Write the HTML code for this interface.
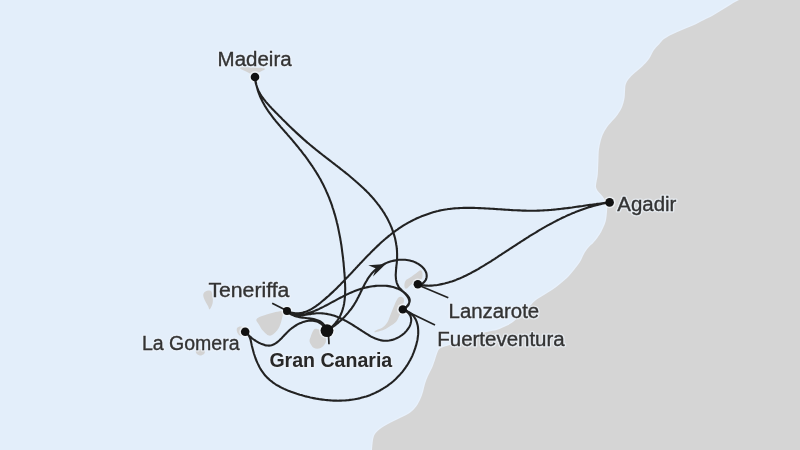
<!DOCTYPE html>
<html><head><meta charset="utf-8"><style>
html,body{margin:0;padding:0;width:800px;height:450px;overflow:hidden;background:#e3eefa}
svg{display:block;will-change:transform}
text{font-family:"Liberation Sans",sans-serif;font-size:19.50px}
.h{fill:none;stroke:#edf3fa;stroke-width:3;stroke-linejoin:round;opacity:.7}
.t{fill:#333;stroke:#333;stroke-width:.35}
.t[font-weight]{stroke-width:0;fill:#282828}
</style></head><body>
<svg width="800" height="450" viewBox="0 0 800 450">
<rect width="800" height="450" fill="#e3eefa"/>
<path d="M739.0,0.0 C737.7,0.7 733.8,2.7 731.0,4.4 C728.2,6.1 725.0,8.1 722.0,10.0 C719.0,11.9 716.0,13.9 713.0,15.6 C710.0,17.3 707.3,18.3 704.0,20.0 C700.7,21.7 696.7,23.9 693.0,25.6 C689.3,27.3 685.5,28.5 682.0,30.0 C678.5,31.5 675.0,32.9 672.0,34.4 C669.0,35.9 666.2,37.3 664.0,39.0 C661.8,40.7 660.7,42.6 659.0,44.4 C657.3,46.2 655.7,47.6 654.0,50.0 C652.3,52.4 651.0,56.2 649.0,59.0 C647.0,61.8 644.7,64.1 642.0,66.7 C639.3,69.3 635.3,72.2 633.0,74.4 C630.7,76.6 629.2,78.2 628.0,80.0 C626.8,81.8 626.1,83.0 625.6,85.0 C625.1,87.0 625.2,89.7 625.0,92.0 C624.8,94.3 624.9,96.5 624.4,99.0 C623.9,101.5 623.3,104.1 622.2,106.7 C621.1,109.3 619.5,112.0 617.8,114.4 C616.1,116.8 614.1,118.9 612.2,121.1 C610.4,123.3 608.2,125.6 606.7,127.8 C605.2,130.0 603.9,132.2 602.9,134.4 C601.9,136.6 601.4,138.5 600.7,141.1 C600.0,143.7 599.3,146.7 598.9,150.0 C598.5,153.3 598.6,156.9 598.4,161.0 C598.2,165.1 598.1,170.9 597.8,174.4 C597.5,177.9 596.8,179.9 596.5,182.0 C596.2,184.1 595.8,185.5 596.0,187.0 C596.2,188.5 597.0,189.8 597.8,191.0 C598.6,192.2 599.9,193.1 601.0,194.4 C602.1,195.7 603.4,197.2 604.4,199.0 C605.4,200.8 606.6,202.9 607.0,205.0 C607.4,207.1 607.2,208.9 607.0,211.4 C606.8,213.9 606.5,217.6 606.0,220.0 C605.5,222.4 605.0,223.7 604.0,226.0 C603.0,228.3 601.7,231.3 600.0,234.0 C598.3,236.7 596.0,239.7 594.0,242.0 C592.0,244.3 589.7,246.0 588.0,248.0 C586.3,250.0 585.3,251.7 584.0,254.0 C582.7,256.3 581.7,259.3 580.0,262.0 C578.3,264.7 576.0,267.5 574.0,270.0 C572.0,272.5 570.3,274.7 568.0,277.0 C565.7,279.3 562.7,281.8 560.0,284.0 C557.3,286.2 554.7,288.2 552.0,290.0 C549.3,291.8 546.7,293.3 544.0,295.0 C541.3,296.7 538.3,298.2 536.0,300.0 C533.7,301.8 531.5,304.4 530.0,306.0 C528.5,307.6 528.4,308.0 526.7,309.7 C525.0,311.4 522.2,314.3 520.0,316.3 C517.8,318.3 515.5,320.1 513.3,321.7 C511.1,323.3 509.4,324.4 506.7,325.7 C504.0,327.0 500.4,328.7 497.3,329.7 C494.2,330.7 490.9,331.0 488.0,331.7 C485.1,332.4 482.4,332.8 480.0,333.7 C477.6,334.6 475.9,335.9 473.3,337.1 C470.7,338.3 467.3,339.7 464.4,340.7 C461.4,341.7 458.6,342.4 455.6,343.3 C452.7,344.2 449.4,345.1 446.7,346.0 C444.0,346.9 441.2,347.4 439.6,348.7 C438.0,350.0 437.7,352.1 436.9,354.0 C436.1,355.9 435.8,357.7 435.0,360.0 C434.2,362.3 433.2,365.3 432.0,368.0 C430.8,370.7 429.2,373.3 428.0,376.0 C426.8,378.7 425.8,381.3 425.0,384.0 C424.2,386.7 423.8,389.3 423.0,392.0 C422.2,394.7 421.3,397.3 420.0,400.0 C418.7,402.7 417.0,405.7 415.0,408.0 C413.0,410.3 410.8,412.2 408.0,414.0 C405.2,415.8 401.3,417.3 398.0,419.0 C394.7,420.7 391.0,422.3 388.0,424.0 C385.0,425.7 382.2,427.3 380.0,429.0 C377.8,430.7 376.2,432.2 375.0,434.0 C373.8,435.8 373.5,437.3 373.0,440.0 C372.5,442.7 372.2,448.3 372.0,450.0 L800,450 L800,0 Z" fill="#d5d5d5" stroke="#e8f1fc" stroke-width="2.4" paint-order="stroke"/>
<path d="M240.0,67.8 C240.8,67.0 247.9,67.4 252.0,67.5 C256.1,67.6 262.8,68.0 264.5,68.5 C266.2,69.0 263.2,70.0 262.0,70.8 C260.8,71.6 258.6,72.6 257.0,73.2 C255.4,73.8 254.4,74.7 252.7,74.5 C251.0,74.3 249.1,73.1 247.0,72.0 C244.9,70.9 239.2,68.5 240.0,67.8Z" fill="#d3d3d3"/>
<path d="M204.0,292.7 C204.7,291.8 206.1,290.9 207.3,290.7 C208.5,290.5 210.4,290.2 211.3,291.3 C212.2,292.4 212.5,295.4 212.7,297.3 C212.9,299.2 213.0,300.9 212.7,302.7 C212.4,304.5 211.3,306.9 210.7,308.0 C210.1,309.1 209.8,309.6 209.3,309.3 C208.9,309.0 208.7,307.3 208.0,306.0 C207.3,304.7 206.1,303.0 205.3,301.3 C204.5,299.6 203.5,297.4 203.3,296.0 C203.1,294.6 203.3,293.6 204.0,292.7Z" fill="#d3d3d3"/>
<path d="M256.7,318.9 C258.0,317.2 262.8,315.8 266.7,314.5 C270.6,313.2 277.3,311.7 280.0,311.3 C282.7,310.9 282.6,310.9 283.0,312.0 C283.4,313.1 282.8,315.4 282.2,317.8 C281.6,320.2 280.7,324.1 279.4,326.7 C278.1,329.3 276.1,331.8 274.4,333.3 C272.6,334.8 270.8,336.0 268.9,335.6 C267.0,335.2 265.0,333.0 263.3,331.1 C261.6,329.2 260.0,326.4 258.9,324.4 C257.8,322.4 255.4,320.5 256.7,318.9Z" fill="#d3d3d3"/>
<path d="M237.0,328.0 C237.6,326.9 239.7,326.3 241.0,326.5 C242.3,326.7 244.3,327.7 245.0,329.0 C245.7,330.3 245.7,333.3 245.0,334.5 C244.3,335.7 242.2,336.2 241.0,336.0 C239.8,335.8 238.2,334.3 237.5,333.0 C236.8,331.7 236.4,329.1 237.0,328.0Z" fill="#d3d3d3"/>
<path d="M196.0,350.5 C196.6,349.8 198.6,349.0 200.0,349.0 C201.4,349.0 203.8,349.7 204.5,350.5 C205.2,351.3 204.8,353.2 204.0,354.0 C203.2,354.8 201.2,355.6 200.0,355.5 C198.8,355.4 197.2,354.3 196.5,353.5 C195.8,352.7 195.4,351.2 196.0,350.5Z" fill="#d3d3d3"/>
<path d="M315.3,328.7 C316.5,328.5 318.4,329.3 320.0,330.0 C321.6,330.7 324.0,331.6 325.0,333.0 C326.0,334.4 325.9,337.0 326.0,338.7 C326.1,340.4 326.2,341.8 325.3,343.3 C324.4,344.9 322.6,347.2 320.7,348.0 C318.8,348.8 315.8,349.0 314.0,348.0 C312.2,347.0 310.2,343.9 309.7,342.0 C309.1,340.1 310.1,338.5 310.7,336.7 C311.2,334.9 312.2,332.3 313.0,331.0 C313.8,329.7 314.1,328.9 315.3,328.7Z" fill="#d3d3d3"/>
<path d="M400.0,296.7 C400.9,296.6 402.6,297.1 403.3,297.8 C404.0,298.5 404.1,299.8 404.0,301.0 C403.9,302.2 403.3,303.5 403.0,305.0 C402.7,306.5 402.5,308.4 402.0,310.0 C401.5,311.6 400.7,312.9 400.0,314.4 C399.3,315.9 398.5,317.6 397.8,318.9 C397.1,320.2 396.7,321.1 395.6,322.2 C394.5,323.3 392.8,324.5 391.1,325.6 C389.4,326.7 387.5,328.0 385.6,328.9 C383.8,329.8 381.7,330.6 380.0,331.1 C378.3,331.7 376.5,332.1 375.6,332.2 C374.7,332.3 374.2,332.1 374.4,331.7 C374.6,331.3 375.4,330.6 376.7,330.0 C378.0,329.4 380.5,328.9 382.2,327.8 C383.9,326.7 385.6,324.8 386.7,323.3 C387.8,321.8 388.2,320.6 388.9,318.9 C389.6,317.2 390.4,315.1 391.1,313.3 C391.8,311.5 392.6,309.7 393.3,307.8 C394.1,305.9 394.9,303.8 395.6,302.2 C396.4,300.6 397.1,299.2 397.8,298.3 C398.5,297.4 399.1,296.8 400.0,296.7Z" fill="#d3d3d3"/>
<path d="M420.8,270.2 C421.4,270.3 421.9,271.0 422.2,272.0 C422.5,273.0 422.6,275.0 422.5,276.2 C422.4,277.4 422.4,278.2 421.5,279.0 C420.6,279.8 418.3,280.4 417.0,281.0 C415.7,281.6 414.8,281.9 413.6,282.6 C412.5,283.4 411.2,284.6 410.1,285.5 C409.0,286.4 408.0,287.8 407.2,288.3 C406.4,288.8 405.6,288.9 405.1,288.3 C404.6,287.7 404.3,286.1 404.4,284.8 C404.5,283.5 404.9,281.7 405.8,280.5 C406.8,279.3 408.6,278.7 410.1,277.6 C411.7,276.5 413.7,275.2 415.1,274.1 C416.5,273.0 417.7,271.9 418.6,271.2 C419.6,270.5 420.2,270.1 420.8,270.2Z" fill="#d3d3d3"/>
<text x="217.6" y="66.1" textLength="74.0" lengthAdjust="spacingAndGlyphs" class="h">Madeira</text>
<text x="617.3" y="210.7" textLength="59.1" lengthAdjust="spacingAndGlyphs" class="h">Agadir</text>
<text x="208.4" y="296.9" textLength="81.0" lengthAdjust="spacingAndGlyphs" class="h">Teneriffa</text>
<text x="141.9" y="349.9" textLength="97.7" lengthAdjust="spacingAndGlyphs" class="h">La Gomera</text>
<text x="269.4" y="366.9" textLength="122.8" lengthAdjust="spacingAndGlyphs" font-weight="bold" class="h">Gran Canaria</text>
<text x="448.6" y="317.9" textLength="90.6" lengthAdjust="spacingAndGlyphs" class="h">Lanzarote</text>
<text x="437.3" y="346.4" textLength="127.4" lengthAdjust="spacingAndGlyphs" class="h">Fuerteventura</text>
<text x="217.6" y="66.1" textLength="74.0" lengthAdjust="spacingAndGlyphs" class="t">Madeira</text>
<text x="617.3" y="210.7" textLength="59.1" lengthAdjust="spacingAndGlyphs" class="t">Agadir</text>
<text x="208.4" y="296.9" textLength="81.0" lengthAdjust="spacingAndGlyphs" class="t">Teneriffa</text>
<text x="141.9" y="349.9" textLength="97.7" lengthAdjust="spacingAndGlyphs" class="t">La Gomera</text>
<text x="269.4" y="366.9" textLength="122.8" lengthAdjust="spacingAndGlyphs" font-weight="bold" class="t">Gran Canaria</text>
<text x="448.6" y="317.9" textLength="90.6" lengthAdjust="spacingAndGlyphs" class="t">Lanzarote</text>
<text x="437.3" y="346.4" textLength="127.4" lengthAdjust="spacingAndGlyphs" class="t">Fuerteventura</text>
<circle cx="255.0" cy="77.0" r="5.9" fill="#f2f5f9" fill-opacity=".75"/>
<circle cx="609.6" cy="202.4" r="5.9" fill="#f2f5f9" fill-opacity=".75"/>
<circle cx="287.0" cy="311.0" r="5.6" fill="#f2f5f9" fill-opacity=".75"/>
<circle cx="245.2" cy="331.7" r="5.9" fill="#f2f5f9" fill-opacity=".75"/>
<circle cx="327.0" cy="330.6" r="8.0" fill="#f2f5f9" fill-opacity=".75"/>
<circle cx="417.8" cy="284.3" r="5.8" fill="#f2f5f9" fill-opacity=".75"/>
<circle cx="402.8" cy="309.4" r="5.8" fill="#f2f5f9" fill-opacity=".75"/>
<path d="M255.0,77.0 L255.2,78.6 L255.4,80.2 L255.7,81.7 L256.0,83.3 L256.3,84.8 L256.7,86.3 L257.1,87.8 L257.5,89.2 L257.9,90.7 L258.4,92.1 L258.9,93.5 L259.5,94.9 L260.0,96.3 L260.6,97.7 L261.3,99.0 L261.9,100.3 L262.6,101.7 L263.3,103.0 L264.0,104.3 L264.7,105.6 L265.5,106.8 L266.3,108.1 L267.1,109.3 L267.9,110.6 L268.8,111.8 L269.6,113.0 L270.5,114.2 L271.4,115.4 L272.3,116.6 L273.2,117.8 L274.1,119.0 L275.1,120.1 L276.0,121.3 L277.0,122.5 L278.0,123.6 L278.9,124.8 L279.9,125.9 L280.9,127.1 L281.9,128.2 L282.9,129.4 L283.9,130.5 L284.9,131.7 L285.9,132.8 L286.9,133.9 L287.9,135.1 L288.9,136.2 L289.9,137.4 L290.9,138.5 L291.9,139.7 L292.9,140.9 L293.8,142.0 L294.8,143.2 L295.8,144.4 L296.7,145.5 L297.7,146.7 L298.7,147.9 L299.6,149.1 L300.6,150.2 L301.5,151.4 L302.4,152.6 L303.3,153.8 L304.3,155.0 L305.2,156.2 L306.1,157.4 L307.0,158.7 L307.9,159.9 L308.7,161.1 L309.6,162.3 L310.5,163.6 L311.3,164.8 L312.2,166.0 L313.0,167.3 L313.8,168.5 L314.6,169.8 L315.5,171.1 L316.2,172.3 L317.0,173.6 L317.8,174.9 L318.6,176.2 L319.3,177.5 L320.1,178.8 L320.8,180.1 L321.5,181.4 L322.2,182.7 L322.9,184.1 L323.6,185.4 L324.2,186.7 L324.9,188.1 L325.5,189.4 L326.1,190.8 L326.7,192.2 L327.3,193.5 L327.9,194.9 L328.5,196.3 L329.1,197.7 L329.6,199.1 L330.1,200.5 L330.7,201.9 L331.2,203.3 L331.7,204.7 L332.2,206.2 L332.6,207.6 L333.1,209.0 L333.6,210.5 L334.0,211.9 L334.4,213.4 L334.9,214.8 L335.3,216.3 L335.7,217.7 L336.1,219.2 L336.5,220.7 L336.8,222.2 L337.2,223.6 L337.5,225.1 L337.9,226.6 L338.2,228.1 L338.5,229.6 L338.8,231.1 L339.1,232.6 L339.4,234.1 L339.7,235.6 L340.0,237.1 L340.3,238.6 L340.5,240.1 L340.8,241.6 L341.0,243.1 L341.3,244.7 L341.5,246.2 L341.7,247.7 L341.9,249.2 L342.1,250.8 L342.3,252.3 L342.5,253.8 L342.7,255.3 L342.9,256.9 L343.1,258.4 L343.2,259.9 L343.4,261.5 L343.6,263.0 L343.7,264.5 L343.8,266.1 L344.0,267.6 L344.1,269.1 L344.2,270.7 L344.3,272.2 L344.5,273.7 L344.6,275.3 L344.7,276.8 L344.8,278.3 L344.8,279.9 L344.9,281.4 L345.0,282.9 L345.1,284.4 L345.1,286.0 L345.2,287.5 L345.2,289.0 L345.2,290.5 L345.1,292.0 L345.1,293.5 L345.0,295.0 L345.0,296.4 L344.8,297.9 L344.7,299.3 L344.5,300.8 L344.3,302.2 L344.1,303.7 L343.8,305.1 L343.5,306.5 L343.1,307.8 L342.8,309.2 L342.3,310.6 L341.9,311.9 L341.3,313.2 L340.8,314.5 L340.2,315.8 L339.5,317.1 L338.8,318.3 L338.0,319.6 L337.2,320.8 L336.3,322.0 L335.4,323.2 L334.4,324.3 L333.3,325.4 L332.2,326.5 L331.0,327.6 L329.7,328.7 L328.4,329.7 L327.0,330.7 M255.0,77.0 L255.1,78.6 L255.3,80.2 L255.5,81.7 L255.8,83.3 L256.2,84.7 L256.7,86.2 L257.2,87.6 L257.7,89.0 L258.3,90.4 L259.0,91.7 L259.7,93.0 L260.4,94.3 L261.2,95.6 L262.1,96.8 L262.9,98.0 L263.8,99.2 L264.8,100.4 L265.7,101.6 L266.7,102.8 L267.7,103.9 L268.7,105.0 L269.7,106.2 L270.8,107.3 L271.8,108.4 L272.9,109.5 L273.9,110.6 L275.0,111.7 L276.0,112.8 L277.1,113.8 L278.2,114.9 L279.2,116.0 L280.3,117.1 L281.3,118.1 L282.4,119.2 L283.5,120.2 L284.5,121.3 L285.6,122.3 L286.6,123.4 L287.7,124.4 L288.8,125.5 L289.8,126.5 L290.9,127.5 L292.0,128.6 L293.1,129.6 L294.2,130.6 L295.2,131.6 L296.3,132.6 L297.4,133.6 L298.5,134.6 L299.6,135.6 L300.7,136.6 L301.8,137.6 L302.9,138.6 L304.0,139.6 L305.2,140.6 L306.3,141.6 L307.4,142.6 L308.6,143.5 L309.7,144.5 L310.9,145.5 L312.0,146.4 L313.2,147.4 L314.4,148.3 L315.5,149.3 L316.7,150.2 L317.9,151.2 L319.1,152.1 L320.3,153.1 L321.5,154.0 L322.7,155.0 L323.9,155.9 L325.1,156.8 L326.3,157.8 L327.5,158.7 L328.7,159.6 L330.0,160.6 L331.2,161.5 L332.4,162.5 L333.6,163.4 L334.8,164.3 L336.0,165.3 L337.3,166.2 L338.5,167.2 L339.7,168.1 L340.9,169.1 L342.1,170.0 L343.3,171.0 L344.5,171.9 L345.7,172.9 L346.9,173.8 L348.1,174.8 L349.3,175.8 L350.4,176.7 L351.6,177.7 L352.8,178.7 L353.9,179.7 L355.1,180.7 L356.2,181.7 L357.4,182.7 L358.5,183.7 L359.6,184.7 L360.7,185.7 L361.8,186.8 L362.9,187.8 L364.0,188.8 L365.1,189.9 L366.2,190.9 L367.2,192.0 L368.3,193.1 L369.3,194.1 L370.3,195.2 L371.3,196.3 L372.3,197.4 L373.3,198.5 L374.3,199.7 L375.2,200.8 L376.1,201.9 L377.1,203.1 L378.0,204.3 L378.9,205.4 L379.8,206.6 L380.6,207.8 L381.5,209.0 L382.3,210.2 L383.1,211.5 L383.9,212.7 L384.7,213.9 L385.4,215.2 L386.2,216.5 L386.9,217.8 L387.6,219.1 L388.3,220.4 L388.9,221.7 L389.6,223.1 L390.2,224.4 L390.8,225.8 L391.4,227.2 L391.9,228.5 L392.4,229.9 L392.9,231.4 L393.4,232.8 L393.9,234.2 L394.3,235.6 L394.7,237.1 L395.1,238.5 L395.4,240.0 L395.7,241.5 L396.0,243.0 L396.2,244.5 L396.5,246.0 L396.7,247.5 L396.8,249.0 L397.0,250.5 L397.0,252.0 L397.1,253.5 L397.1,255.1 L397.1,256.6 L397.1,258.2 L397.0,259.7 L396.9,261.3 L396.8,262.8 L396.6,264.4 L396.4,265.9 L396.3,267.5 L396.1,269.0 L396.0,270.6 L395.9,272.1 L395.8,273.6 L395.7,275.1 L395.8,276.5 L395.9,278.0 L396.0,279.4 L396.3,280.8 L396.6,282.2 L397.0,283.5 L397.6,284.8 L398.2,286.1 L399.0,287.3 L400.0,288.5 L401.1,289.6 L402.2,290.7 L403.5,291.8 L404.7,292.9 L405.9,293.9 L407.0,295.0 L408.0,296.1 L408.8,297.3 L409.4,298.5 L409.7,299.7 L409.7,301.0 L409.4,302.4 L408.7,303.8 L407.8,305.1 L406.7,306.4 L405.5,307.6 L404.2,308.6 L402.8,309.3 M609.6,202.4 L608.1,202.6 L606.6,202.7 L605.1,202.9 L603.6,203.1 L602.1,203.3 L600.6,203.5 L599.1,203.7 L597.6,203.8 L596.1,204.1 L594.6,204.3 L593.1,204.5 L591.6,204.7 L590.1,204.9 L588.6,205.1 L587.1,205.3 L585.6,205.5 L584.1,205.7 L582.6,206.0 L581.1,206.2 L579.6,206.4 L578.1,206.6 L576.6,206.8 L575.1,207.0 L573.6,207.2 L572.1,207.5 L570.6,207.7 L569.1,207.9 L567.6,208.1 L566.1,208.3 L564.6,208.4 L563.1,208.6 L561.6,208.8 L560.1,209.0 L558.6,209.1 L557.1,209.3 L555.6,209.5 L554.1,209.6 L552.6,209.7 L551.1,209.9 L549.6,210.0 L548.1,210.1 L546.6,210.2 L545.1,210.3 L543.6,210.4 L542.1,210.5 L540.6,210.5 L539.1,210.6 L537.6,210.6 L536.1,210.7 L534.6,210.7 L533.1,210.7 L531.6,210.7 L530.0,210.7 L528.5,210.7 L527.0,210.7 L525.5,210.6 L524.0,210.6 L522.5,210.6 L521.0,210.5 L519.5,210.4 L518.0,210.4 L516.5,210.3 L515.0,210.2 L513.5,210.2 L512.0,210.1 L510.5,210.0 L509.0,209.9 L507.5,209.8 L506.0,209.7 L504.4,209.6 L502.9,209.5 L501.4,209.4 L499.9,209.3 L498.4,209.2 L496.9,209.1 L495.4,209.0 L493.9,208.9 L492.3,208.8 L490.8,208.7 L489.3,208.6 L487.8,208.5 L486.3,208.5 L484.7,208.4 L483.2,208.3 L481.7,208.2 L480.2,208.1 L478.7,208.1 L477.1,208.0 L475.6,208.0 L474.1,207.9 L472.6,207.9 L471.1,207.9 L469.5,207.9 L468.0,207.8 L466.5,207.9 L465.0,207.9 L463.5,207.9 L462.0,208.0 L460.5,208.0 L459.0,208.1 L457.5,208.2 L456.0,208.3 L454.5,208.4 L453.0,208.5 L451.5,208.7 L450.0,208.9 L448.5,209.0 L447.0,209.3 L445.5,209.5 L444.0,209.7 L442.6,210.0 L441.1,210.3 L439.6,210.6 L438.2,211.0 L436.7,211.3 L435.3,211.7 L433.8,212.1 L432.4,212.5 L430.9,212.9 L429.5,213.4 L428.1,213.9 L426.7,214.4 L425.3,214.9 L423.8,215.4 L422.4,215.9 L421.1,216.5 L419.7,217.1 L418.3,217.7 L416.9,218.3 L415.5,219.0 L414.2,219.6 L412.8,220.3 L411.5,221.0 L410.2,221.7 L408.8,222.4 L407.5,223.1 L406.2,223.9 L404.9,224.6 L403.6,225.4 L402.4,226.2 L401.1,227.0 L399.8,227.9 L398.6,228.7 L397.4,229.6 L396.1,230.4 L394.9,231.3 L393.7,232.2 L392.5,233.1 L391.3,234.0 L390.1,235.0 L388.9,235.9 L387.8,236.9 L386.6,237.8 L385.5,238.8 L384.3,239.8 L383.2,240.8 L382.0,241.8 L380.9,242.8 L379.8,243.8 L378.7,244.9 L377.6,245.9 L376.5,246.9 L375.4,248.0 L374.3,249.1 L373.2,250.1 L372.1,251.2 L371.0,252.3 L370.0,253.4 L368.9,254.5 L367.8,255.5 L366.8,256.6 L365.7,257.7 L364.6,258.9 L363.6,260.0 L362.5,261.1 L361.5,262.2 L360.4,263.3 L359.4,264.4 L358.3,265.5 L357.3,266.7 L356.2,267.8 L355.2,268.9 L354.1,270.0 L353.1,271.1 L352.1,272.3 L351.0,273.4 L350.0,274.5 L348.9,275.6 L347.9,276.7 L346.8,277.8 L345.8,278.9 L344.7,280.1 L343.6,281.2 L342.6,282.2 L341.5,283.3 L340.5,284.4 L339.4,285.5 L338.3,286.6 L337.2,287.7 L336.2,288.7 L335.1,289.8 L334.0,290.8 L332.9,291.9 L331.8,292.9 L330.7,293.9 L329.6,294.9 L328.5,296.0 L327.3,296.9 L326.2,297.9 L325.1,298.9 L323.9,299.9 L322.8,300.8 L321.6,301.8 L320.5,302.7 L319.3,303.7 L318.1,304.6 L316.9,305.4 L315.7,306.3 L314.5,307.1 L313.3,307.9 L312.1,308.7 L310.8,309.4 L309.6,310.0 L308.3,310.6 L307.0,311.2 L305.7,311.7 L304.4,312.1 L303.0,312.5 L301.7,312.8 L300.3,313.0 L298.9,313.2 L297.5,313.2 L296.1,313.2 L294.6,313.1 L293.1,312.9 L291.6,312.6 L290.1,312.2 L288.6,311.6 L287.0,311.0 M609.6,202.4 L608.1,202.7 L606.6,202.9 L605.0,203.2 L603.5,203.5 L602.0,203.8 L600.5,204.2 L599.1,204.5 L597.6,204.9 L596.1,205.3 L594.6,205.6 L593.2,206.0 L591.7,206.5 L590.3,206.9 L588.8,207.3 L587.4,207.8 L586.0,208.2 L584.5,208.7 L583.1,209.2 L581.7,209.7 L580.3,210.2 L578.9,210.7 L577.5,211.3 L576.1,211.8 L574.7,212.4 L573.3,212.9 L571.9,213.5 L570.6,214.1 L569.2,214.7 L567.8,215.3 L566.5,215.9 L565.1,216.6 L563.7,217.2 L562.4,217.8 L561.0,218.5 L559.7,219.1 L558.4,219.8 L557.0,220.5 L555.7,221.2 L554.3,221.9 L553.0,222.6 L551.7,223.3 L550.4,224.0 L549.1,224.7 L547.7,225.4 L546.4,226.2 L545.1,226.9 L543.8,227.7 L542.5,228.4 L541.2,229.2 L539.9,229.9 L538.6,230.7 L537.3,231.5 L536.0,232.3 L534.7,233.1 L533.4,233.8 L532.1,234.6 L530.8,235.4 L529.5,236.2 L528.2,237.1 L526.9,237.9 L525.7,238.7 L524.4,239.5 L523.1,240.3 L521.8,241.1 L520.5,242.0 L519.2,242.8 L517.9,243.6 L516.7,244.5 L515.4,245.3 L514.1,246.1 L512.8,247.0 L511.5,247.8 L510.2,248.7 L509.0,249.5 L507.7,250.3 L506.4,251.2 L505.1,252.0 L503.8,252.9 L502.5,253.7 L501.2,254.6 L499.9,255.4 L498.7,256.2 L497.4,257.1 L496.1,257.9 L494.8,258.8 L493.5,259.6 L492.2,260.4 L490.9,261.3 L489.6,262.1 L488.3,262.9 L487.0,263.7 L485.6,264.5 L484.3,265.4 L483.0,266.2 L481.7,266.9 L480.4,267.7 L479.1,268.5 L477.7,269.3 L476.4,270.0 L475.1,270.8 L473.7,271.5 L472.4,272.2 L471.0,273.0 L469.7,273.7 L468.3,274.3 L467.0,275.0 L465.6,275.7 L464.3,276.3 L462.9,277.0 L461.5,277.6 L460.2,278.2 L458.8,278.7 L457.4,279.3 L456.0,279.9 L454.6,280.4 L453.2,280.9 L451.8,281.4 L450.4,281.8 L449.0,282.3 L447.6,282.7 L446.1,283.1 L444.7,283.5 L443.3,283.8 L441.8,284.1 L440.4,284.4 L438.9,284.7 L437.4,285.0 L436.0,285.2 L434.5,285.3 L433.0,285.5 L431.5,285.6 L430.1,285.6 L428.6,285.7 L427.1,285.6 L425.6,285.6 L424.1,285.4 L422.6,285.3 L421.0,285.0 L419.5,284.7 L418.0,284.4 M327.0,330.7 L328.3,329.9 L329.6,329.1 L330.9,328.3 L332.1,327.4 L333.4,326.5 L334.6,325.6 L335.8,324.7 L337.0,323.7 L338.2,322.8 L339.3,321.8 L340.5,320.7 L341.6,319.7 L342.7,318.7 L343.8,317.6 L344.8,316.5 L345.8,315.4 L346.8,314.2 L347.8,313.1 L348.8,311.9 L349.7,310.7 L350.7,309.5 L351.6,308.3 L352.4,307.1 L353.3,305.8 L354.1,304.6 L354.9,303.3 L355.7,302.0 L356.4,300.7 L357.1,299.4 L357.8,298.0 L358.5,296.7 L359.2,295.3 L359.9,294.0 L360.5,292.6 L361.2,291.3 L361.8,289.9 L362.5,288.6 L363.1,287.2 L363.8,285.9 L364.5,284.6 L365.2,283.3 L365.9,282.0 L366.7,280.7 L367.4,279.4 L368.2,278.2 L369.0,277.0 L369.9,275.8 L370.8,274.6 L371.7,273.5 L372.7,272.4 L373.8,271.3 L374.9,270.3 L376.0,269.3 L377.2,268.3 L378.4,267.4 L379.7,266.6 L381.0,265.7 L382.4,265.0 L383.8,264.2 L385.2,263.5 L386.6,262.9 L388.1,262.3 L389.6,261.8 L391.1,261.3 L392.7,260.9 L394.2,260.6 L395.8,260.3 L397.4,260.0 L398.9,259.8 L400.5,259.7 L402.1,259.7 L403.6,259.7 L405.2,259.8 L406.7,260.0 L408.3,260.2 L409.8,260.5 L411.3,260.9 L412.7,261.3 L414.2,261.9 L415.6,262.5 L416.9,263.2 L418.3,263.9 L419.6,264.8 L420.8,265.7 L421.9,266.6 L423.0,267.7 L423.9,268.7 L424.7,269.9 L425.4,271.0 L426.0,272.2 L426.4,273.4 L426.6,274.7 L426.7,275.9 L426.6,277.2 L426.3,278.5 L425.8,279.8 L425.0,281.0 L424.1,282.1 L422.9,283.1 L421.5,283.8 L419.9,284.2 L418.0,284.2 M287.0,311.0 L288.4,312.0 L289.7,312.8 L291.1,313.5 L292.6,314.1 L294.0,314.5 L295.4,314.8 L296.9,314.9 L298.4,315.0 L299.9,315.0 L301.3,314.8 L302.8,314.6 L304.3,314.3 L305.8,314.0 L307.3,313.6 L308.8,313.1 L310.2,312.6 L311.7,312.1 L313.1,311.5 L314.6,310.9 L316.0,310.3 L317.4,309.7 L318.8,309.1 L320.1,308.4 L321.5,307.7 L322.8,307.1 L324.2,306.4 L325.5,305.7 L326.9,305.0 L328.2,304.3 L329.5,303.6 L330.8,302.9 L332.1,302.2 L333.4,301.5 L334.7,300.8 L336.0,300.1 L337.3,299.4 L338.6,298.7 L339.9,298.0 L341.3,297.3 L342.6,296.6 L343.9,295.9 L345.2,295.3 L346.5,294.6 L347.9,294.0 L349.2,293.4 L350.6,292.8 L351.9,292.2 L353.3,291.6 L354.7,291.0 L356.1,290.5 L357.5,290.0 L359.0,289.5 L360.4,289.0 L361.9,288.6 L363.4,288.2 L364.9,287.8 L366.4,287.4 L367.9,287.1 L369.5,286.8 L371.1,286.5 L372.7,286.3 L374.3,286.1 L375.9,285.9 L377.5,285.8 L379.1,285.7 L380.7,285.7 L382.3,285.7 L383.9,285.7 L385.5,285.8 L387.0,285.9 L388.6,286.1 L390.1,286.4 L391.6,286.7 L393.1,287.0 L394.5,287.4 L395.9,287.9 L397.2,288.4 L398.6,289.0 L399.8,289.7 L401.1,290.4 L402.2,291.2 L403.3,292.0 L404.4,292.9 L405.4,293.9 L406.3,295.0 L407.2,296.1 L407.9,297.3 L408.6,298.5 L409.0,299.8 L409.3,301.0 L409.3,302.3 L409.0,303.6 L408.5,304.9 L407.6,306.1 L406.4,307.2 L404.8,308.3 L402.8,309.3 M287.0,311.0 L288.3,312.0 L289.6,312.9 L291.0,313.6 L292.4,314.1 L293.8,314.6 L295.2,314.9 L296.7,315.1 L298.1,315.2 L299.6,315.2 L301.2,315.2 L302.7,315.1 L304.2,314.9 L305.8,314.7 L307.3,314.5 L308.9,314.3 L310.4,314.1 L311.9,313.8 L313.5,313.6 L315.0,313.5 L316.5,313.3 L318.0,313.3 L319.5,313.3 L321.0,313.3 L322.4,313.4 L323.9,313.5 L325.3,313.7 L326.7,313.9 L328.1,314.2 L329.5,314.5 L330.9,314.8 L332.3,315.2 L333.7,315.6 L335.1,316.1 L336.4,316.6 L337.8,317.1 L339.1,317.7 L340.5,318.3 L341.8,318.9 L343.1,319.5 L344.4,320.2 L345.8,320.9 L347.1,321.6 L348.4,322.3 L349.7,323.1 L351.0,323.9 L352.3,324.7 L353.6,325.5 L354.9,326.3 L356.2,327.1 L357.5,328.0 L358.8,328.8 L360.1,329.7 L361.4,330.5 L362.7,331.4 L364.0,332.2 L365.4,333.1 L366.7,333.9 L368.0,334.7 L369.3,335.5 L370.7,336.3 L372.0,337.0 L373.4,337.6 L374.7,338.2 L376.1,338.8 L377.5,339.3 L378.9,339.7 L380.3,340.1 L381.7,340.4 L383.2,340.6 L384.6,340.7 L386.1,340.7 L387.6,340.7 L389.1,340.5 L390.6,340.2 L392.1,339.9 L393.5,339.4 L395.0,338.9 L396.5,338.3 L397.9,337.6 L399.3,336.9 L400.6,336.0 L401.9,335.1 L403.1,334.2 L404.3,333.2 L405.4,332.1 L406.5,330.9 L407.4,329.7 L408.3,328.5 L409.1,327.2 L409.8,325.9 L410.3,324.6 L410.7,323.3 L411.0,321.9 L411.2,320.6 L411.2,319.3 L411.0,318.0 L410.7,316.7 L410.2,315.5 L409.4,314.3 L408.5,313.2 L407.4,312.1 L406.1,311.1 L404.6,310.2 L402.8,309.3 M402.8,309.3 L404.5,309.9 L406.0,310.5 L407.5,311.3 L408.9,312.1 L410.1,312.9 L411.3,313.8 L412.3,314.8 L413.3,315.9 L414.1,317.0 L414.9,318.1 L415.6,319.3 L416.2,320.6 L416.7,321.9 L417.1,323.2 L417.5,324.6 L417.8,326.0 L418.0,327.4 L418.1,328.8 L418.2,330.3 L418.2,331.8 L418.2,333.3 L418.1,334.9 L417.9,336.4 L417.7,337.9 L417.5,339.5 L417.2,341.0 L416.8,342.6 L416.4,344.2 L416.0,345.7 L415.5,347.2 L415.1,348.7 L414.5,350.2 L414.0,351.7 L413.4,353.2 L412.8,354.6 L412.2,356.1 L411.5,357.5 L410.8,358.8 L410.1,360.2 L409.3,361.5 L408.6,362.9 L407.8,364.2 L407.0,365.5 L406.1,366.7 L405.3,368.0 L404.4,369.2 L403.5,370.4 L402.6,371.6 L401.6,372.7 L400.6,373.9 L399.6,375.0 L398.6,376.1 L397.6,377.1 L396.5,378.2 L395.5,379.2 L394.4,380.2 L393.3,381.2 L392.1,382.2 L391.0,383.1 L389.8,384.0 L388.6,384.9 L387.4,385.8 L386.2,386.6 L385.0,387.4 L383.7,388.2 L382.5,389.0 L381.2,389.7 L379.9,390.5 L378.6,391.2 L377.3,391.8 L375.9,392.5 L374.6,393.1 L373.2,393.7 L371.9,394.3 L370.5,394.9 L369.1,395.4 L367.7,395.9 L366.3,396.4 L364.8,396.8 L363.4,397.2 L362.0,397.6 L360.5,398.0 L359.1,398.4 L357.6,398.7 L356.1,399.0 L354.6,399.3 L353.1,399.5 L351.6,399.7 L350.1,399.9 L348.6,400.1 L347.1,400.2 L345.6,400.4 L344.1,400.5 L342.6,400.5 L341.0,400.6 L339.5,400.6 L338.0,400.7 L336.4,400.6 L334.9,400.6 L333.3,400.6 L331.8,400.5 L330.3,400.4 L328.7,400.3 L327.2,400.1 L325.6,400.0 L324.1,399.8 L322.5,399.6 L321.0,399.4 L319.5,399.2 L317.9,398.9 L316.4,398.7 L314.9,398.4 L313.3,398.1 L311.8,397.8 L310.3,397.5 L308.8,397.1 L307.3,396.7 L305.8,396.4 L304.3,396.0 L302.8,395.6 L301.3,395.1 L299.8,394.7 L298.3,394.2 L296.9,393.8 L295.4,393.3 L294.0,392.8 L292.5,392.3 L291.1,391.8 L289.7,391.2 L288.3,390.7 L286.9,390.1 L285.5,389.5 L284.1,388.9 L282.8,388.3 L281.5,387.6 L280.2,387.0 L278.9,386.2 L277.6,385.5 L276.3,384.8 L275.1,384.0 L273.9,383.2 L272.7,382.3 L271.6,381.4 L270.4,380.5 L269.3,379.6 L268.3,378.6 L267.2,377.6 L266.2,376.5 L265.2,375.5 L264.3,374.3 L263.4,373.1 L262.5,371.9 L261.6,370.7 L260.8,369.4 L260.0,368.0 L259.3,366.7 L258.6,365.3 L257.9,363.9 L257.2,362.4 L256.6,361.0 L256.0,359.5 L255.4,358.0 L254.9,356.5 L254.4,355.0 L253.9,353.5 L253.5,352.0 L253.1,350.5 L252.7,349.0 L252.3,347.5 L251.9,346.0 L251.6,344.6 L251.3,343.1 L251.0,341.7 L250.7,340.3 L250.3,338.9 L249.8,337.6 L249.2,336.3 L248.5,335.1 L247.6,333.9 L246.6,332.8 L245.3,331.7 M245.3,331.7 L246.1,332.7 L247.1,333.7 L248.1,334.8 L249.2,335.8 L250.4,336.9 L251.7,338.0 L253.0,339.0 L254.4,340.0 L255.8,340.9 L257.3,341.8 L258.8,342.7 L260.3,343.4 L261.8,344.1 L263.3,344.6 L264.8,345.1 L266.2,345.4 L267.6,345.5 L269.0,345.6 L270.3,345.5 L271.6,345.2 L272.8,344.8 L274.0,344.3 L275.1,343.7 L276.3,342.9 L277.3,342.1 L278.4,341.2 L279.5,340.3 L280.5,339.3 L281.6,338.2 L282.6,337.1 L283.7,336.0 L284.8,334.8 L285.9,333.7 L287.0,332.6 L288.1,331.4 L289.3,330.3 L290.5,329.3 L291.8,328.2 L293.1,327.3 L294.4,326.4 L295.8,325.5 L297.1,324.7 L298.5,323.9 L299.9,323.3 L301.4,322.7 L302.8,322.1 L304.3,321.7 L305.7,321.3 L307.2,321.0 L308.6,320.8 L310.0,320.7 L311.5,320.7 L312.9,320.7 L314.2,320.9 L315.6,321.2 L316.9,321.6 L318.2,322.1 L319.5,322.8 L320.7,323.5 L321.9,324.4 L323.0,325.4 L324.1,326.5 L325.1,327.8 L326.1,329.2 L327.0,330.7 M287.0,311.0 L288.1,312.2 L289.3,313.2 L290.6,314.0 L292.0,314.8 L293.4,315.4 L294.8,316.0 L296.3,316.4 L297.8,316.8 L299.4,317.1 L301.0,317.4 L302.6,317.6 L304.2,317.8 L305.8,318.0 L307.4,318.2 L309.0,318.4 L310.6,318.6 L312.2,318.8 L313.7,319.1 L315.2,319.5 L316.6,319.9 L318.0,320.4 L319.4,321.0 L320.6,321.7 L321.8,322.5 L322.9,323.5 L323.9,324.6 L324.9,325.9 L325.7,327.3 L326.4,328.9 L327.0,330.7" fill="none" stroke="#222" stroke-width="2.10" stroke-linecap="round" stroke-linejoin="round"/>
<path d="M385.8,263.9 L368.3,265.2 L376,268.6 L373,276.6 Z" fill="#222"/>
<line x1="272.2" y1="303.3" x2="285.0" y2="309.8" stroke="#222" stroke-width="1.7"/>
<line x1="421.0" y1="286.3" x2="448.3" y2="297.8" stroke="#222" stroke-width="1.7"/>
<line x1="405.0" y1="310.5" x2="435.0" y2="325.0" stroke="#222" stroke-width="1.7"/>
<line x1="328.5" y1="335.0" x2="329.0" y2="344.3" stroke="#222" stroke-width="1.7"/>
<circle cx="255.0" cy="77.0" r="4.3" fill="#111"/>
<circle cx="609.6" cy="202.4" r="4.3" fill="#111"/>
<circle cx="287.0" cy="311.0" r="4.0" fill="#111"/>
<circle cx="245.2" cy="331.7" r="4.3" fill="#111"/>
<circle cx="327.0" cy="330.6" r="6.4" fill="#111"/>
<circle cx="417.8" cy="284.3" r="4.2" fill="#111"/>
<circle cx="402.8" cy="309.4" r="4.2" fill="#111"/>
</svg>
</body></html>
